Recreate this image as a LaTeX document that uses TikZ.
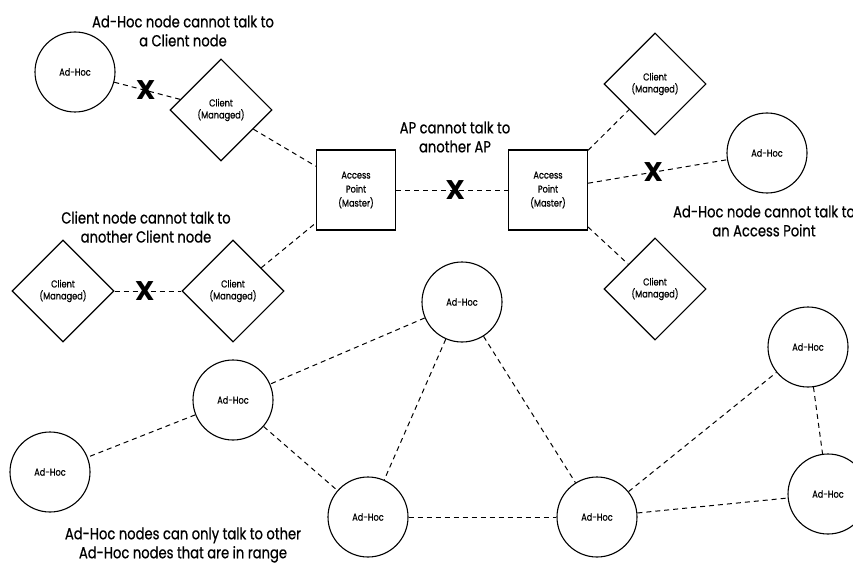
\documentclass[tikz,border=0pt]{standalone}
\usepackage{fontspec}
\setmainfont{Poppins}[FakeStretch=0.82, FakeBold=0.7]
\newfontfamily\crossfont{Poppins}
\usetikzlibrary{shapes.geometric}
\tikzset{
  adhoc/.style={circle, draw, line width=1.1pt, minimum size=80pt, inner sep=0pt,
    font=\fontsize{10}{12}\selectfont},
  client/.style={diamond, draw, line width=1.1pt, minimum width=102pt, minimum height=102pt,
    inner sep=0pt, align=center, font=\fontsize{10}{12}\selectfont},
  master/.style={rectangle, draw, line width=1.1pt, minimum width=79pt, minimum height=80pt,
    inner sep=0pt, align=center, font=\fontsize{10}{14}\selectfont},
  link/.style={line width=1pt, dash pattern=on 5pt off 4pt},
  nolink/.style={inner sep=0pt, font=\crossfont\fontsize{27}{27}\selectfont\bfseries},
  note/.style={align=center, font=\fontsize{16}{19}\selectfont}
}
\begin{document}
\begin{tikzpicture}[x=1pt, y=-1pt]
    \useasboundingbox (0,0) rectangle (853,564);

    \node[adhoc]  (h1) at (75,72)   {Ad-Hoc};
    \node[client] (c1) at (221,110) {Client\\(Managed)};
    \node[master] (m1) at (356,190) {Access\\Point\\(Master)};
    \node[master] (m2) at (548,190) {Access\\Point\\(Master)};
    \node[client] (c4) at (655,84)  {Client\\(Managed)};
    \node[adhoc]  (h2) at (767,153) {Ad-Hoc};
    \node[client] (c5) at (655,289) {Client\\(Managed)};
    \node[client] (c2) at (63,291)  {Client\\(Managed)};
    \node[client] (c3) at (233,291) {Client\\(Managed)};

    \node[adhoc] (r1) at (462,302) {Ad-Hoc};
    \node[adhoc] (r2) at (233,400) {Ad-Hoc};
    \node[adhoc] (r3) at (50,472)  {Ad-Hoc};
    \node[adhoc] (r4) at (368,517) {Ad-Hoc};
    \node[adhoc] (r5) at (597,517) {Ad-Hoc};
    \node[adhoc] (r6) at (808,347) {Ad-Hoc};
    \node[adhoc] (r7) at (828,494) {Ad-Hoc};

    \node[note] (n1) at (183,31)  {Ad-Hoc node cannot talk to\\a Client node};
    \node[note] (n2) at (455,137) {AP cannot talk to\\another AP};
    \node[note] (n3) at (146,227) {Client node cannot talk to\\another Client node};
    \node[note] (n4) at (764,221) {Ad-Hoc node cannot talk to\\an Access Point};
    \node[note] (n5) at (183,545) {Ad-Hoc nodes can only talk to other\\Ad-Hoc nodes that are in range};

    \draw[link] (h1) -- node[nolink, pos=.48] {X} (c1);
    \draw[link] (c1) -- (m1);
    \draw[link] (c2) -- node[nolink, pos=.45] {X} (c3);
    \draw[link] (c3) -- (m1);
    \draw[link] (m1) -- node[nolink, pos=.53] {X} (m2);
    \draw[link] (m2) -- (c4);
    \draw[link] (m2) -- node[nolink, pos=.47] {X} (h2);
    \draw[link] (m2) -- (c5);

    \draw[link] (r1) -- (r2);
    \draw[link] (r1) -- (r4);
    \draw[link] (r1) -- (r5);
    \draw[link] (r2) -- (r3);
    \draw[link] (r2) -- (r4);
    \draw[link] (r4) -- (r5);
    \draw[link] (r5) -- (r6);
    \draw[link] (r5) -- (r7);
    \draw[link] (r6) -- (r7);
\end{tikzpicture}
\end{document}
